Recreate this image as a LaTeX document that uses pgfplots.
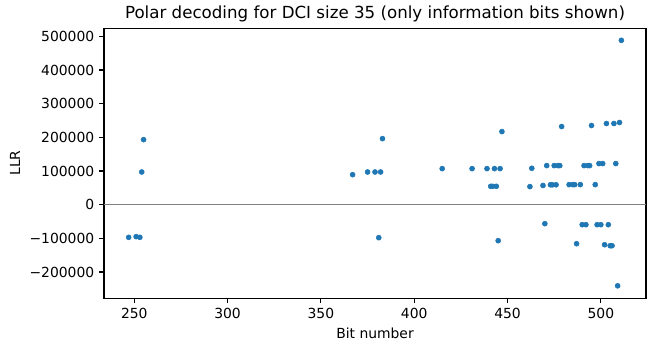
\documentclass[border=0pt]{standalone}
\usepackage{fontspec}
\setmainfont{DejaVu Sans}
\usepackage{pgfplots}
\pgfplotsset{compat=1.18}
\definecolor{mplblue}{HTML}{1F77B4}
\begin{document}
\begin{tikzpicture}
\begin{axis}[
  scale only axis, width=390.2pt, height=194.4pt,
  xmin=233.8, xmax=524.2, ymin=-277450, ymax=524450,
  xtick={250,300,350,400,450,500},
  ytick={-200000,-100000,0,100000,200000,300000,400000,500000},
  yticklabels={−200000,−100000,0,100000,200000,300000,400000,500000},
  scaled y ticks=false,
  /pgf/number format/assume math mode=true,
  tick pos=left, tick align=outside, major tick length=3.5pt,
  every tick/.style={line width=0.8pt, black},
  axis line style={line width=0.8pt},
  tick label style={font=\fontsize{10}{12}\selectfont},
  xlabel={Bit number}, ylabel={LLR},
  label style={font=\fontsize{10}{12}\selectfont},
  title={Polar decoding for DCI size 35 (only information bits shown)},
  every axis title/.style={font=\fontsize{12}{14}\selectfont, at={(0.5,1)}, anchor=south, inner sep=0pt, yshift=4.5pt},
]
\addplot[gray, line width=0.8pt] coordinates {(233.8,0) (524.2,0)};
\addplot[only marks, mark=*, mark size=1.8pt, mplblue, mark options={draw=mplblue, fill=mplblue}] table {
x y
247 -97000
251 -95000
253 -97000
254 97000
255 193000
367 89000
375 97000
379 97000
381 -98000
382 97000
383 196000
415 107000
431 107000
439 107000
441 54500
442 54500
443 107000
444 54500
445 -107000
446 107000
447 217000
462 53600
463 108000
469 57000
470 -56500
471 116000
473 59000
474 59000
475 116000
476 59000
477 116000
478 116000
479 232000
483 59500
485 59500
486 59500
487 -116000
489 59500
490 -59500
491 116000
492 -59500
493 116000
494 116000
495 235000
497 59500
498 -59500
499 122000
500 -59500
501 122000
502 -119000
503 241000
504 -59500
505 -122000
506 -122000
507 241000
508 122000
509 -241000
510 244000
511 488000
};
\coordinate (ll) at (rel axis cs:0,0);
\coordinate (ur) at (rel axis cs:1,1);
\end{axis}
\pgfresetboundingbox
\path ([shift={(-74.9pt,-39.6pt)}]ll) rectangle ([shift={(7.2pt,20.2pt)}]ur);
\end{tikzpicture}
\end{document}
